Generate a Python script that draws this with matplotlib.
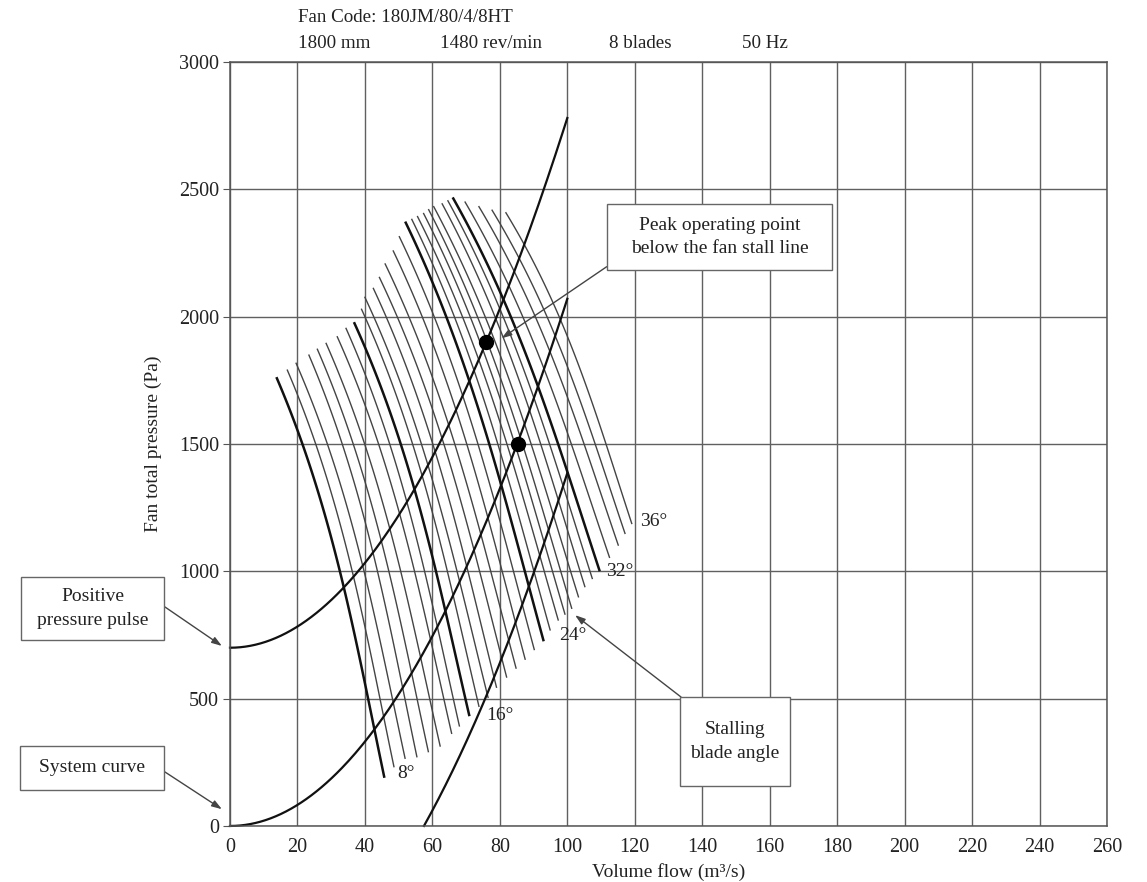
import numpy as np
import matplotlib
matplotlib.use("Agg")
import matplotlib.pyplot as plt
from matplotlib.patches import Rectangle

plt.rcParams['font.family'] = ['Liberation Serif', 'DejaVu Serif']

# ---- data ----
angles = list(range(8, 37))
thick_angles = [8, 16, 24, 32]
labelled = {8: (49.5, 208), 16: (75.9, 432), 24: (97.5, 750), 32: (111.5, 1001), 36: (121.5, 1194)}

top_q = [13.9, 17.0, 19.6, 23.4, 25.9, 28.5, 31.8, 34.4, 36.9, 39.0, 40.0, 42.5, 44.3, 46.0,
         48.4, 50.2, 52.1, 53.9, 55.6, 57.4, 58.9, 60.4, 62.9, 64.6, 66.2, 69.7, 73.8, 77.7, 81.8]
top_p = [1758, 1790, 1817, 1849, 1872, 1895, 1921, 1954, 1974, 2029, 2076, 2111, 2154, 2207,
         2258, 2314, 2369, 2382, 2393, 2405, 2420, 2432, 2443, 2455, 2464, 2450, 2432, 2418, 2408]
bot_q = [45.7, 48.6, 51.9, 55.4, 58.8, 62.3, 65.7, 68.0, 70.9, 73.8, 76.5, 79.0, 82.0, 84.8,
         87.5, 90.2, 92.9, 94.9, 97.3, 99.3, 101.3, 103.3, 105.2, 107.4, 109.5, 112.5, 115.1, 117.1, 119.1]
bot_p = [194, 233, 266, 272, 292, 314, 364, 393, 436, 470, 505, 545, 585, 620,
         655, 693, 730, 770, 809, 832, 855, 900, 940, 972, 1005, 1055, 1103, 1149, 1188]
bow = 3.5  # sideways bulge of the blade curves (m3/s)

flow = [0, 10, 20, 30, 40, 50, 60, 70, 80, 90, 100]
pulse_p = [700, 721, 783, 887, 1033, 1220, 1449, 1719, 2031, 2385, 2780]
system_p = [0, 21, 83, 186, 331, 518, 745, 1014, 1325, 1677, 2070]
third_q = [57.5, 60, 65, 70, 75, 80, 85, 90, 95, 100]
third_p = [0, 61, 190, 330, 480, 640, 811, 992, 1184, 1386]

points_q = [76, 85.5]
points_p = [1900, 1500]

W, H = 1147, 882
fig = plt.figure(figsize=(W / 100, H / 100), dpi=100)
ax = fig.add_axes([230 / W, 1 - 826 / H, 877 / W, 764 / H])


def fx(px):
    return px / W


def fy(py):
    return 1 - py / H


ax.set_xlim(0, 260)
ax.set_ylim(0, 3000)
ax.set_xticks(np.arange(0, 261, 20))
ax.set_yticks(np.arange(0, 3001, 500))
ax.grid(True, color='#606060', linewidth=1.0)
ax.set_axisbelow(True)
for s in ax.spines.values():
    s.set_color('#555555')
    s.set_linewidth(1.1)
ax.tick_params(axis='y', direction='out', length=5, color='#555555', labelsize=14.5, pad=3, labelcolor='#222222')
ax.tick_params(axis='x', direction='out', length=0, labelsize=14.5, pad=9, labelcolor='#222222')

# blade angle curves (bulge a little stronger near the stall end)
for i, a in enumerate(angles):
    s = np.linspace(0, 1, 80)
    shape = 0.5 * 4 * s * (1 - s) + 0.5 * 6.75 * s * (1 - s) ** 2
    q = top_q[i] + (bot_q[i] - top_q[i]) * s + bow * shape
    p = top_p[i] + (bot_p[i] - top_p[i]) * s
    if a in thick_angles:
        ax.plot(q, p, color='#111111', linewidth=1.8)
    else:
        ax.plot(q, p, color='#444444', linewidth=1.0)
    if a in labelled:
        ax.text(labelled[a][0], labelled[a][1], f"{a}°", fontsize=14, ha='left', va='center', color='#222222')


def smooth(xs, ys):
    c = np.polyfit(xs, ys, 2)
    xx = np.linspace(xs[0], xs[-1], 200)
    return xx, np.polyval(c, xx)


for xs, ys in [(flow, pulse_p), (flow, system_p), (third_q, third_p)]:
    xx, yy = smooth(xs, ys)
    ax.plot(xx, yy, color='#111111', linewidth=1.6, clip_on=False)

ax.plot(points_q, points_p, 'o', color='black', markersize=10, zorder=5)

ax.set_xlabel("Volume flow (m³/s)", fontsize=14, color='#222222', labelpad=4)
ax.set_ylabel("Fan total pressure (Pa)", fontsize=14, color='#222222', labelpad=12)

# header
fig.text(fx(298), fy(18), "Fan Code: 180JM/80/4/8HT", fontsize=13.7, va='center', color='#222222')
for x0, t in [(298, "1800 mm"), (440, "1480 rev/min"), (609, "8 blades"), (742, "50 Hz")]:
    fig.text(fx(x0), fy(43), t, fontsize=13.7, va='center', color='#222222')

# callout boxes
boxes = [
    ((607, 204, 832, 270), "Peak operating point\nbelow the fan stall line"),
    ((680, 697, 790, 786), "Stalling\nblade angle"),
    ((21, 577, 164, 640), "Positive\npressure pulse"),
    ((20, 746, 164, 790), "System curve"),
]
for (x0, y0, x1, y1), t in boxes:
    fig.patches.append(Rectangle((fx(x0), fy(y1)), fx(x1 - x0), (y1 - y0) / H, transform=fig.transFigure,
                                 facecolor='white', edgecolor='#666666', linewidth=1.0))
    fig.text(fx((x0 + x1) / 2), fy((y0 + y1) / 2), t, fontsize=14, ha='center', va='center',
             linespacing=1.5, color='#222222')

arrows = [
    ((80.5, 1915), (606.7, 266.7)),
    ((102.3, 828), (681, 697)),
    ((-2.4, 707), (165, 607)),
    ((-2.4, 66), (165, 772)),
]
for head, tail in arrows:
    ax.annotate("", xy=head, xycoords='data', xytext=(fx(tail[0]), fy(tail[1])), textcoords='figure fraction',
                annotation_clip=False,
                arrowprops=dict(arrowstyle='-|>,head_length=0.6,head_width=0.2', color='#444444',
                                linewidth=1.0, shrinkA=0, shrinkB=0))

fig.savefig("out.png", dpi=100, facecolor='white')
